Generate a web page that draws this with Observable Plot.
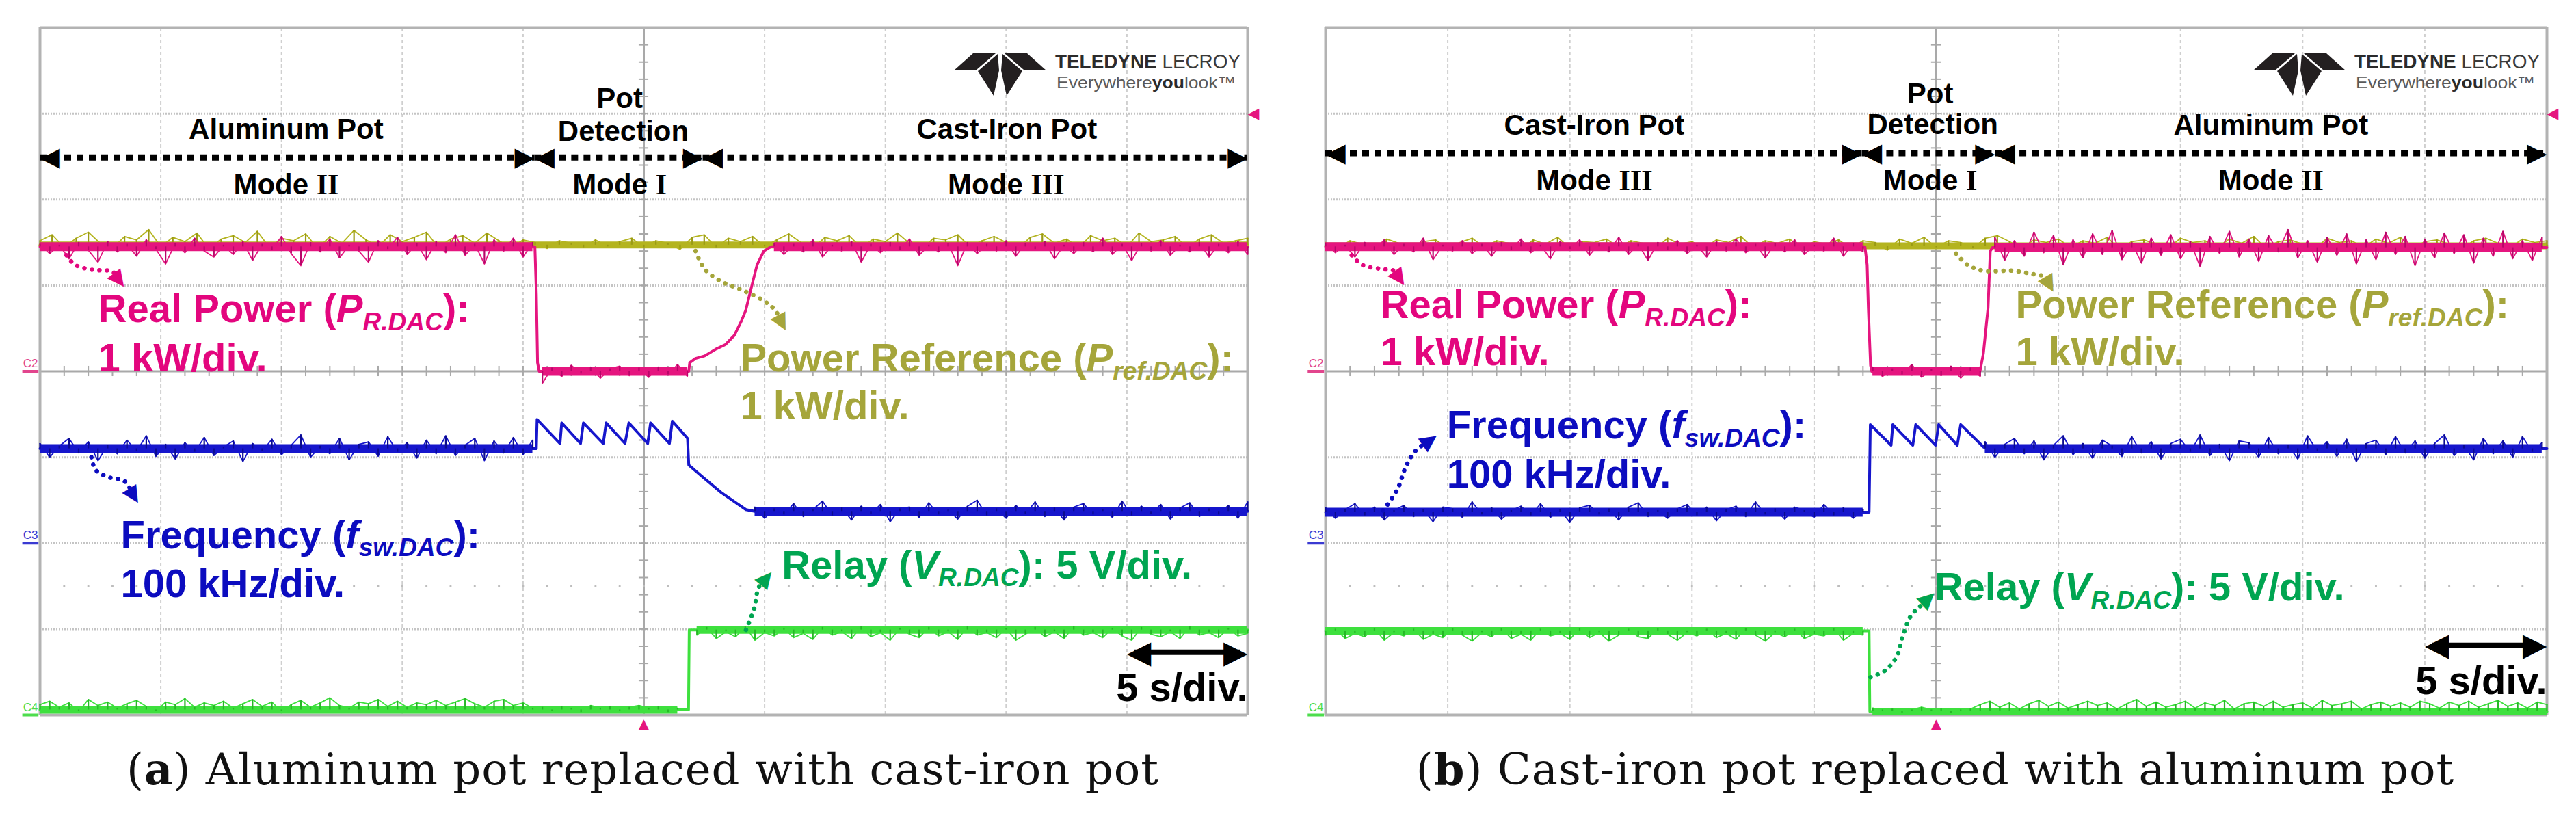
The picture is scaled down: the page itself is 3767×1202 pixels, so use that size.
<!DOCTYPE html>
<html><head><meta charset="utf-8">
<script src="https://cdn.jsdelivr.net/npm/d3@7"></script>
<script src="https://cdn.jsdelivr.net/npm/@observablehq/plot@0.6"></script>
<style>
html,body{margin:0;padding:0;background:#fff;}
#page{position:relative;width:3767px;height:1202px;overflow:hidden;background:#fff;}
#pa{position:absolute;left:0;top:0;width:1880px;}
#pb{position:absolute;left:1880px;top:0;width:1887px;}
#cap{position:absolute;left:0;top:0;}
</style></head>
<body><div id="page"><div id="pa"></div><div id="pb"></div><svg id="cap" width="3767" height="1202"></svg></div>
<script>
// ================= DATA =================
// time in seconds (5 s/div, 10 div), amplitude in screen divisions (8 div, centre = 0)
const gridT = [5, 10, 15, 20, 30, 35, 40, 45];
const gridV = [-3, -2, -1, 1, 2, 3];
const chanNames = ["C2", "C3", "C4"];
const chanGround = [0, -2, -4];
const captionTags = ["a", "b"];
const captionTexts = ["Aluminum pot replaced with cast-iron pot", "Cast-iron pot replaced with aluminum pot"];

// ---------- panel (a): aluminum pot -> cast-iron pot ----------
const aPower = [[0,1.45],[20.49,1.45],[20.55,0.9],[20.6,0.1],[20.67,0.0],[26.86,0.0],[26.9,0.1],[27.14,0.15],[27.52,0.18],[27.99,0.26],[28.37,0.31],[28.75,0.42],[29.03,0.58],[29.22,0.71],[29.36,0.87],[29.5,1.03],[29.69,1.24],[29.97,1.40],[30.26,1.45],[50,1.45]];
const aRef = [[0,1.47],[50,1.47]];
const aFreq = [[0,-0.90],[20.55,-0.90],[20.58,-0.56],[21.53,-0.84],[21.6,-0.60],[22.38,-0.84],[22.5,-0.60],[23.32,-0.84],[23.44,-0.60],[24.22,-0.84],[24.38,-0.60],[25.16,-0.84],[25.28,-0.60],[26.06,-0.84],[26.18,-0.58],[26.81,-0.78],[26.86,-1.09],[27.52,-1.25],[28.2,-1.41],[28.71,-1.51],[29.23,-1.61],[29.6,-1.63],[50,-1.63]];
const aRelay = [[0,-3.94],[26.85,-3.94],[26.88,-3.01],[50,-3.01]];

// trace excursions, hundredths of a division, one every step seconds
const aPowerN1 = [3,-8,2,-14,5,-4,-18,6,-6,3,-11,8,-3,-20,4,-7,10,-5,-12,2,-9,6,-16,3,-4,12,-8,-22,5,-6,9,-13,2,-5,-18,7,-3,11,-9,4,-15,6,-7,14,-10,3,-20,8,-5,10,-12,5];
const aPowerN2 = [-14,4,-6,7,-3,5,-8,3,6,-5,4,-7,5,-4,8,-6];
const aPowerN3 = [4,-9,3,-6,8,-12,2,-5,6,-18,3,-7,5,-4,9,-10,2,-6,4,-22,5,-8,3,-5,7,-11,4,-3,6,-14,2,-8,5,-6,10,-9,3,-16,4,-5,7,-10,2,-6,5,-12,3,-7,6,-9];
const aRefN = [5,12,-3,8,15,2,-4,10,6,18,-2,9,4,14,-5,7,11,3,16,-3,8,5,13,-4,10,2,17,6,-2,12,4,9,15,-3,7,11,2,14,5,-4,6,3,-4,5,2,-3,6,-2,4,8,-3,5,2,-5,9,12,-3,8,4,10,-2,6,13,3,-4,9,5,11,-3,7,4,14,2,-5,8,6,12,-2,5,10,3,-4,9,13,2,7,-3,11,5,8,-2,14,4,6,10,-3,7,12,2,5,8];
const aFreqN1 = [6,-10,3,12,-5,8,-14,4,-6,10,-3,15,-9,5,-12,7,-4,13,-8,2,9,-15,6,-3,11,-7,4,16,-10,3,-6,12,-13,5,8,-9,14,-4,7,-11,10,-6,15,-8,4,12,-14,9,-5,13,-7,10];
const aFreqN2 = [5,-8,3,-4,9,-6,2,12,-5,4,-10,6,-3,8,-12,3,5,-7,10,-4,2,-9,6,13,-5,3,-8,7,-3,11,-6,4,-10,5,9,-4,2,-7,12,-5,6,-3,8,-9,4,10,-6,3,-4,7,-8,11];
const aRelayN1 = [6,10,3,8,-2,12,5,9,2,7,11,4,-2,9,6,13,3,8,5,10,2,7,12,4,9,-2,6,11,3,8,14,5,2,9,7,12,4,10,3,8,6,11,5,9,13,7,3,10,12,5,8,2,3,-2,4,2,-3,5,2,4,-2,3,5,2,4,-3,2];
const aRelayN2 = [-6,3,-10,-2,-8,4,-12,-3,-7,2,-9,-4,-11,3,-6,-2,-10,4,-8,-3,-12,2,-5,-9,3,-7,-2,-11,4,-6,-3,-9,2,-12,-5,3,-8,-2,-10,4,-6,-3,-9,2,-7,-12,3,-5,-8,-2,-10,4,-6,-3,-9,2,-7,-4];
const aPowerNoise = [{t0:0,step:0.4,level:1.45,offs:aPowerN1},{t0:20.8,step:0.4,level:0.0,offs:aPowerN2},{t0:30.4,step:0.4,level:1.45,offs:aPowerN3}];
const aRefNoise = [{t0:0,step:0.5,level:1.47,offs:aRefN}];
const aFreqNoise = [{t0:0,step:0.4,level:-0.90,offs:aFreqN1},{t0:29.6,step:0.4,level:-1.63,offs:aFreqN2}];
const aRelayNoise = [{t0:0,step:0.4,level:-3.94,offs:aRelayN1},{t0:27.2,step:0.4,level:-3.01,offs:aRelayN2}];

const aPowerLabel = [{t:2.41,v:0.57,text:"Real Power (P_{R.DAC}):"},{t:2.41,v:0.0,text:"1 kW/div."}];
const aRefLabel = [{t:28.99,v:0.0,text:"Power Reference (P_{ref.DAC}):"},{t:28.99,v:-0.56,text:"1 kW/div."}];
const aFreqLabel = [{t:3.34,v:-2.06,text:"Frequency (f_{sw.DAC}):"},{t:3.34,v:-2.63,text:"100 kHz/div."}];
const aRelayLabel = [{t:30.71,v:-2.41,text:"Relay (V_{R.DAC}): 5 V/div."}];
const aPowerPointer = [[1.10,1.35],[1.45,1.24],[2.2,1.18],[3.0,1.16],[3.3,1.05]];
const aRefPointer = [[27.14,1.40],[27.52,1.19],[28.18,1.05],[29.03,0.95],[29.97,0.82],[30.44,0.71],[30.74,0.55]];
const aFreqPointer = [[2.13,-1.00],[2.31,-1.15],[2.82,-1.23],[3.5,-1.28],[3.9,-1.46]];
const aRelayPointer = [[29.23,-3.01],[29.58,-2.75],[29.75,-2.52],[30.1,-2.40]];

const aModeSpans = [[0,20.48],[20.48,27.45],[27.45,50]];
const aModeV = 2.49;
const aModeTop = [{t:10.19,v:2.81,text:"Aluminum Pot"},{t:24.0,v:3.17,text:"Pot"},{t:24.15,v:2.79,text:"Detection"},{t:40.03,v:2.81,text:"Cast-Iron Pot"}];
const aModeBottom = [{t:10.19,v:2.17,text:"Mode II"},{t:24.0,v:2.17,text:"Mode I"},{t:40.0,v:2.17,text:"Mode III"}];
const aScaleSpan = [45, 50];
const aScaleV = -3.27;
const aScaleLabel = [{t:50,v:-3.84,text:"5 s/div."}];

// ---------- panel (b): cast-iron pot -> aluminum pot ----------
const bPower = [[0,1.45],[22.08,1.45],[22.17,1.24],[22.22,0.74],[22.31,0.07],[22.36,0.0],[26.79,0.0],[26.93,0.21],[27.12,0.74],[27.21,1.40],[27.3,1.44],[50,1.44]];
const bRef = [[0,1.46],[50,1.46]];
const bFreq = [[0,-1.64],[22.25,-1.64],[22.3,-0.62],[23.15,-0.86],[23.22,-0.62],[24.04,-0.86],[24.16,-0.62],[24.97,-0.86],[25.1,-0.62],[25.86,-0.86],[26.0,-0.62],[26.93,-0.88],[27.1,-0.90],[50,-0.90]];
const bRelay = [[0,-3.02],[22.25,-3.02],[22.28,-3.96],[50,-3.96]];

const bPowerN1 = [4,-7,2,-12,5,-4,8,-9,3,-6,10,-15,2,-5,7,-8,3,-11,5,-4,9,-7,2,-14,6,-3,8,-10,4,-6,11,-9,3,-16,5,-4,7,-8,2,-12,6,-5,9,-7,3,-13,4,-6,8,-9,2,-5,10,-11,4,-6];
const bPowerN2 = [5,-6,3,-4,8,-7,2,-5,6,-8,4,-6];
const bPowerN3 = [12,-15,8,-10,18,-6,14,-20,9,-12,16,-8,20,-14,6,-18,11,-9,15,-13,7,-22,13,-7,19,-11,10,-16,14,-5,21,-12,8,-17,12,-9,16,-19,9,-14,18,-8,13,-21,10,-12,17,-7,15,-18,11,-10,19,-13,8,-15,12];
const bRefN = [4,-3,6,2,-4,8,3,-2,5,7,-3,4,9,-2,6,3,-5,7,2,10,-3,5,4,8,-2,6,3,-4,9,2,5,-3,7,4,11,-2,6,3,8,-4,5,2,7,-3,6,4,-5,8,3,10,-2,6,4,-3,9,12,5,-3,7,4,8,-2,6,3,10,-4,5,7,2,-3,9,4,6,-2,8,3,11,-3,5,7,2,-4,9,4,6,-2,8,3,10,-3,5,7,2,-4,6,9,3,-2,8,4,6];
const bFreqN1 = [5,-7,3,10,-4,6,-9,2,8,-5,3,-11,6,4,-6,12,-3,5,-8,2,7,-4,10,-6,3,-12,5,8,-3,4,-9,6,11,-5,2,-7,4,9,-4,6,-10,3,7,-5,12,-3,4,-8,6,2,-6,9,-4,5,-7,3];
const bFreqN2 = [8,-10,5,12,-6,9,-13,4,15,-7,6,-11,10,3,-9,14,-5,8,-12,6,11,-4,16,-8,5,-14,9,7,-10,13,-6,4,-12,15,-3,8,-9,11,-15,6,10,-7,14,-5,9,-11,6,16,-8,4,-13,12,-6,9,-10,14,-4,7];
const bRelayN1 = [-5,2,-9,-3,-7,3,-11,-2,-6,2,-10,-4,-8,3,-5,-12,-2,-7,3,-9,-4,-11,2,-6,-3,-10,3,-8,-2,-12,-5,2,-7,-9,3,-4,-11,-2,-6,2,-8,-3,-10,3,-5,-12,-2,-7,2,-9,-4,-6,3,-11,-3,-5];
const bRelayN2 = [4,2,3,-2,2,5,2,3,-2,2,3,8,12,5,10,3,9,13,6,11,4,8,12,7,10,3,9,14,6,11,5,8,12,4,10,7,13,3,9,11,6,12,5,8,10,4,13,7,9,12,3,8,11,6,10,5,12,9,4,11,7,12,5,9,13,6,10,4,11,8];
const bPowerNoise = [{t0:0,step:0.4,level:1.45,offs:bPowerN1},{t0:22.4,step:0.4,level:0.0,offs:bPowerN2},{t0:27.4,step:0.4,level:1.44,offs:bPowerN3}];
const bRefNoise = [{t0:0,step:0.5,level:1.46,offs:bRefN}];
const bFreqNoise = [{t0:0,step:0.4,level:-1.64,offs:bFreqN1},{t0:27.0,step:0.4,level:-0.90,offs:bFreqN2}];
const bRelayNoise = [{t0:0,step:0.4,level:-3.02,offs:bRelayN1},{t0:22.4,step:0.4,level:-3.96,offs:bRelayN2}];

const bPowerLabel = [{t:2.24,v:0.62,text:"Real Power (P_{R.DAC}):"},{t:2.24,v:0.07,text:"1 kW/div."}];
const bRefLabel = [{t:28.25,v:0.62,text:"Power Reference (P_{ref.DAC}):"},{t:28.25,v:0.07,text:"1 kW/div."}];
const bFreqLabel = [{t:4.96,v:-0.78,text:"Frequency (f_{sw.DAC}):"},{t:4.96,v:-1.35,text:"100 kHz/div."}];
const bRelayLabel = [{t:24.92,v:-2.67,text:"Relay (V_{R.DAC}): 5 V/div."}];
const bPowerPointer = [[1.07,1.35],[1.5,1.24],[2.3,1.19],[2.8,1.17],[3.05,1.07]];
const bRefPointer = [[25.81,1.37],[26.28,1.24],[26.93,1.17],[28.14,1.17],[28.98,1.13],[29.45,1.10],[29.65,1.00]];
const bFreqPointer = [[2.35,-1.62],[2.93,-1.38],[3.3,-1.10],[3.7,-0.92],[4.3,-0.80]];
const bRelayPointer = [[22.31,-3.56],[22.92,-3.48],[23.38,-3.32],[23.62,-3.09],[23.95,-2.85],[24.32,-2.74],[24.7,-2.64]];

const bModeSpans = [[0,21.96],[21.96,27.41],[27.41,50]];
const bModeV = 2.54;
const bModeTop = [{t:11.0,v:2.86,text:"Cast-Iron Pot"},{t:24.75,v:3.23,text:"Pot"},{t:24.85,v:2.87,text:"Detection"},{t:38.7,v:2.86,text:"Aluminum Pot"}];
const bModeBottom = [{t:11.0,v:2.22,text:"Mode III"},{t:24.75,v:2.22,text:"Mode I"},{t:38.7,v:2.22,text:"Mode II"}];
const bScaleSpan = [45, 50];
const bScaleV = -3.19;
const bScaleLabel = [{t:50,v:-3.76,text:"5 s/div."}];

// ================= STYLE =================
const COL = {
  power:{band:"#e5157f", spike:"#b8066a", text:"#e3067e"},
  ref:{band:"#b4b41f", spike:"#9a9a14", text:"#a5a53b"},
  freq:{band:"#1616cc", spike:"#0b0b90", text:"#0c0cbf"},
  relay:{band:"#3ee03e", spike:"#26b826", text:"#00a551"}
};
const chanColor = ["#e2458d", "#3a3ad2", "#4ddd4d"];
const SANS = "Liberation Sans, Arial, Helvetica, sans-serif";
const GLYPH = "DejaVu Sans, sans-serif";
const LABEL_FS = 58;

// ================= DRAWING =================
function noisyOf(noise) {
  return noise.flatMap((s, k) => s.offs.map((o, i) => ({k, t: s.t0 + i * s.step, y: s.level + o / 100, y1: s.level})));
}
function bandsOf(noise) {
  return noise.map(s => ({x1: s.t0, x2: s.t0 + (s.offs.length - 1) * s.step, y: s.level}));
}

function scope(container, P) {
  const W = P.width, H = 1075, mT = 40, mB = 30, mL = 58, mR = P.mR;
  const fw = W - mL - mR, fh = H - mT - mB;
  const kx = fw / 50, ky = fh / 8;
  const marks = [];
  // graticule
  marks.push(Plot.ruleX(gridT, {x: d => d, stroke: "#cfcfcf", strokeWidth: 2, strokeDasharray: "5,4"}));
  marks.push(Plot.ruleY(gridV, {y: d => d, stroke: "#c4c4c4", strokeWidth: 3, strokeDasharray: "2,2"}));
  marks.push(Plot.ruleX([25], {stroke: "#a9a9a9", strokeWidth: 3}));
  marks.push(Plot.ruleY([0], {stroke: "#a9a9a9", strokeWidth: 3}));
  marks.push(Plot.ruleX(d3.range(1, 50, 1), {x: d => d, y1: -0.06, y2: 0.06, stroke: "#a9a9a9", strokeWidth: 2}));
  marks.push(Plot.ruleY(d3.range(-3.8, 3.81, 0.2), {y: d => d, x1: 24.8, x2: 25.2, stroke: "#a9a9a9", strokeWidth: 2}));
  marks.push(Plot.dot(d3.range(1, 50, 1), {x: d => d, y: -2.5, r: 1.6, fill: "#bdbdbd"}));
  marks.push(Plot.ruleX([0, 50], {stroke: "#b3b3b3", strokeWidth: 4}));
  marks.push(Plot.ruleY([-4, 4], {stroke: "#b3b3b3", strokeWidth: 4}));
  // channel ground markers
  chanNames.forEach((n, i) => {
    marks.push(Plot.ruleY([chanGround[i]], {x1: -0.72, x2: -0.05, stroke: chanColor[i], strokeWidth: 4}));
    marks.push(Plot.text([n], {x: 0, y: chanGround[i], text: d => d, fill: chanColor[i], fontSize: 17, fontFamily: SANS, textAnchor: "end", lineAnchor: "bottom", dx: -3, dy: -6}));
  });
  // traces
  for (const tr of P.traces) {
    const c = COL[tr.col];
    const pts = noisyOf(tr.noise);
    marks.push(Plot.ruleY(bandsOf(tr.noise), {y: "y", x1: "x1", x2: "x2", stroke: c.band, strokeWidth: tr.band}));
    marks.push(Plot.line(tr.keys, {x: d => d[0], y: d => d[1], stroke: c.band, strokeWidth: 4}));
    marks.push(Plot.line(pts, {x: "t", y: "y", z: "k", stroke: c.band, strokeWidth: 1.8}));
    marks.push(Plot.ruleX(pts, {x: "t", y1: "y1", y2: "y", stroke: c.spike, strokeWidth: 2.2}));
  }
  // trigger markers
  marks.push(Plot.text([3], {x: 50, y: d => d, text: () => "\u25C0", fill: "#e5157f", fontSize: 22, fontFamily: GLYPH, textAnchor: "start", lineAnchor: "middle", dx: 0}));
  marks.push(Plot.text([25], {x: d => d, y: -4, text: () => "\u25B2", fill: "#e5157f", fontSize: 20, fontFamily: GLYPH, textAnchor: "middle", lineAnchor: "middle", dy: 13}));
  // mode arrows and texts
  marks.push(Plot.ruleY(P.modeSpans, {y: P.modeV, x1: d => d[0], x2: d => d[1], stroke: "black", strokeWidth: 9, strokeDasharray: "10,8"}));
  marks.push(Plot.text(P.modeSpans, {x: d => d[0], y: P.modeV, text: () => "\u25C0", fill: "black", fontSize: 38, fontFamily: GLYPH, textAnchor: "start", lineAnchor: "middle"}));
  marks.push(Plot.text(P.modeSpans, {x: d => d[1], y: P.modeV, text: () => "\u25B6", fill: "black", fontSize: 38, fontFamily: GLYPH, textAnchor: "end", lineAnchor: "middle"}));
  marks.push(Plot.text(P.modeTop.concat(P.modeBottom), {x: "t", y: "v", text: "text", fill: "black", fontSize: 42, fontWeight: "bold", fontFamily: SANS, textAnchor: "middle", lineAnchor: "middle"}));
  // scale arrow
  marks.push(Plot.ruleY([P.scaleV], {x1: P.scaleSpan[0] + 0.3, x2: P.scaleSpan[1] - 0.3, stroke: "black", strokeWidth: 8}));
  marks.push(Plot.text([P.scaleSpan[0]], {x: d => d, y: P.scaleV, text: () => "\u25C0", fill: "black", fontSize: 46, fontFamily: GLYPH, textAnchor: "start", lineAnchor: "middle"}));
  marks.push(Plot.text([P.scaleSpan[1]], {x: d => d, y: P.scaleV, text: () => "\u25B6", fill: "black", fontSize: 46, fontFamily: GLYPH, textAnchor: "end", lineAnchor: "middle"}));
  marks.push(Plot.text(P.scaleLabel, {x: "t", y: "v", text: "text", fill: "black", fontSize: LABEL_FS, fontWeight: "bold", fontFamily: SANS, textAnchor: "end", lineAnchor: "bottom"}));
  // channel labels with pointers
  for (const key of ["power", "ref", "freq", "relay"]) {
    const c = COL[key].text, path = P.pointers[key];
    const a = path[path.length - 2], b = path[path.length - 1];
    const ang = Math.atan2((b[0] - a[0]) * kx, (b[1] - a[1]) * ky) * 180 / Math.PI;
    marks.push(Plot.line(path, {x: d => d[0], y: d => d[1], curve: "catmull-rom", stroke: c, strokeWidth: 6.5, strokeDasharray: "0.1,11", strokeLinecap: "round"}));
    marks.push(Plot.text([b], {x: d => d[0], y: d => d[1], text: () => "\u25B2", rotate: ang, fill: c, fontSize: 32, fontFamily: GLYPH, textAnchor: "middle", lineAnchor: "middle"}));
    marks.push(Plot.text(P.labels[key], {x: "t", y: "v", text: "text", fill: c, fontSize: LABEL_FS, fontWeight: "bold", fontFamily: SANS, textAnchor: "start", lineAnchor: "bottom"}));
  }
  const svg = Plot.plot({
    width: W, height: H, marginTop: mT, marginBottom: mB, marginLeft: mL, marginRight: mR,
    x: {domain: [0, 50], axis: null}, y: {domain: [-4, 4], axis: null},
    style: {background: "white", overflow: "visible", maxWidth: "none"},
    marks
  });
  svg.style.maxWidth = "none";
  enrich(svg);
  addLogo(svg, W - mR, mT);
  container.appendChild(svg);
}

// subscripts / italics / roman numerals
function enrich(svg) {
  d3.select(svg).selectAll("text").each(function () {
    const s = this.textContent;
    const el = d3.select(this);
    let m = s.match(/^(.*?)([A-Za-z])_\{([^}]*)\}(.*)$/);
    if (m) {
      const fs = LABEL_FS;
      el.text(null);
      el.append("tspan").text(m[1]);
      el.append("tspan").attr("font-style", "italic").text(m[2]);
      el.append("tspan").attr("font-style", "italic").attr("font-size", 0.64 * fs).attr("dy", 0.2 * fs).text(m[3]);
      el.append("tspan").attr("dy", -0.2 * fs).text(m[4]);
      return;
    }
    m = s.match(/^Mode (I+)$/);
    if (m) {
      el.text(null);
      el.append("tspan").text("Mode ");
      el.append("tspan").attr("font-family", "Liberation Serif, Times New Roman, serif").attr("font-weight", "bold").text(m[1]);
    }
  });
}

function addLogo(svg, FR, FT) {
  const g = d3.select(svg).append("g").attr("transform", `translate(${FR - 429},${FT + 38})`).attr("fill", "#231f20");
  const left = [[[0,25],[28,0],[61,0],[33,24]], [[35,26],[64,1],[66,25],[58,62]]];
  const shapes = left.concat(left.map(p => p.map(([x, y]) => [135 - x, y])));
  for (const p of shapes) g.append("polygon").attr("points", p.map(q => q.join(",")).join(" "));
  const t = d3.select(svg).append("g").attr("text-anchor", "start").attr("font-family", "Liberation Sans Narrow, Liberation Sans, Arial, sans-serif");
  const brand = t.append("text").attr("x", FR - 281).attr("y", FT + 60).attr("font-size", 29).attr("fill", "#2b2b2b")
    .attr("textLength", 271).attr("lengthAdjust", "spacingAndGlyphs");
  brand.append("tspan").attr("font-weight", "bold").text("TELEDYNE");
  brand.append("tspan").attr("fill", "#3a3a3a").text(" LECROY");
  const e = t.append("text").attr("x", FR - 279).attr("y", FT + 89).attr("font-size", 24).attr("fill", "#5a5a5a")
    .attr("textLength", 262).attr("lengthAdjust", "spacingAndGlyphs");
  e.append("tspan").text("Everywhere");
  e.append("tspan").attr("font-weight", "bold").attr("fill", "#2b2b2b").text("you");
  e.append("tspan").text("look\u2122");
}

scope(document.getElementById("pa"), {
  width: 1880, mR: 56,
  traces: [
    {keys: aRef, noise: aRefNoise, col: "ref", band: 10},
    {keys: aPower, noise: aPowerNoise, col: "power", band: 13},
    {keys: aFreq, noise: aFreqNoise, col: "freq", band: 13},
    {keys: aRelay, noise: aRelayNoise, col: "relay", band: 11}
  ],
  labels: {power: aPowerLabel, ref: aRefLabel, freq: aFreqLabel, relay: aRelayLabel},
  pointers: {power: aPowerPointer, ref: aRefPointer, freq: aFreqPointer, relay: aRelayPointer},
  modeSpans: aModeSpans, modeV: aModeV, modeTop: aModeTop, modeBottom: aModeBottom,
  scaleSpan: aScaleSpan, scaleV: aScaleV, scaleLabel: aScaleLabel
});
scope(document.getElementById("pb"), {
  width: 1887, mR: 43,
  traces: [
    {keys: bRef, noise: bRefNoise, col: "ref", band: 10},
    {keys: bPower, noise: bPowerNoise, col: "power", band: 13},
    {keys: bFreq, noise: bFreqNoise, col: "freq", band: 13},
    {keys: bRelay, noise: bRelayNoise, col: "relay", band: 11}
  ],
  labels: {power: bPowerLabel, ref: bRefLabel, freq: bFreqLabel, relay: bRelayLabel},
  pointers: {power: bPowerPointer, ref: bRefPointer, freq: bFreqPointer, relay: bRelayPointer},
  modeSpans: bModeSpans, modeV: bModeV, modeTop: bModeTop, modeBottom: bModeBottom,
  scaleSpan: bScaleSpan, scaleV: bScaleV, scaleLabel: bScaleLabel
});

// captions
const capCenters = [940, 2830];
const cap = d3.select("#cap");
captionTexts.forEach((txt, i) => {
  const t = cap.append("text").attr("x", capCenters[i]).attr("y", 1147).attr("text-anchor", "middle")
    .attr("font-family", "DejaVu Serif, serif").attr("font-size", 64).attr("letter-spacing", 1).attr("fill", "#111");
  t.append("tspan").text("(");
  t.append("tspan").attr("font-weight", "bold").text(captionTags[i]);
  t.append("tspan").text(") " + txt);
});
</script>
</body></html>
